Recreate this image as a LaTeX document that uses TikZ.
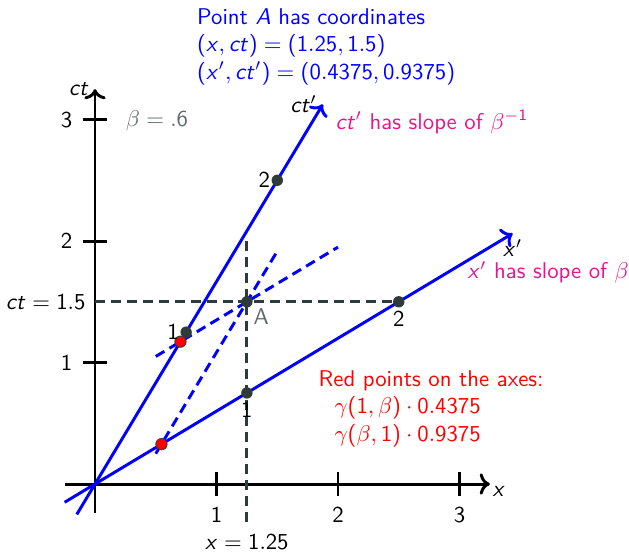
\documentclass[tikz,border=0pt]{standalone}
\usetikzlibrary{arrows.meta, calc, positioning}
\renewcommand{\familydefault}{\sfdefault}
% matematica sans (lettere latine e cifre)
\SetSymbolFont{operators}{normal}{OT1}{cmss}{m}{n}
\DeclareSymbolFont{sfletters}{OT1}{cmss}{m}{sl}
\DeclareMathSymbol{x}{\mathalpha}{sfletters}{`x}
\DeclareMathSymbol{c}{\mathalpha}{sfletters}{`c}
\DeclareMathSymbol{t}{\mathalpha}{sfletters}{`t}
\DeclareMathSymbol{A}{\mathalpha}{sfletters}{`A}
\definecolor{boostblue}{HTML}{0000FF}
\definecolor{slopepink}{HTML}{E8168C}
\definecolor{slate}{HTML}{2F3B3B}
\definecolor{betagray}{HTML}{5F6A6A}
\definecolor{ptred}{HTML}{FF0000}
\tikzset{
  % assi del riferimento in quiete
  mainaxis/.style={line width=1.3pt, black, ->},
  tickmark/.style={line width=1.3pt, black},
  % assi del riferimento in moto
  boostaxis/.style={line width=1.3pt, boostblue, ->},
  % proiezioni parallele agli assi in moto
  proj/.style={line width=1.3pt, boostblue, dash pattern=on 4.4pt off 2.6pt},
  % linee guida verso gli assi
  guide/.style={line width=1.3pt, slate, dash pattern=on 4.4pt off 2.6pt},
  % punti
  pt/.style={circle, fill=slate, inner sep=0pt, minimum size=5pt},
  redpt/.style={circle, draw=slate, line width=0.35pt, fill=ptred, inner sep=0pt,
    minimum size=5pt},
  % etichette
  lbl/.style={font=\normalsize, inner sep=2pt, text=black},
}
\begin{document}
\begin{tikzpicture}[x=1.875cm, y=1.875cm]
  \useasboundingbox (-0.782,-0.56) rectangle (4.395,3.984);
  % coordinate
  \coordinate (xl) at (-0.25,0);
  \coordinate (xr) at (3.25,0);
  \coordinate (yb) at (0,-0.24);
  \coordinate (yt) at (0,3.25);
  \coordinate (xps) at (-0.25,-0.15);
  \coordinate (xpe) at (3.4375,2.0625);
  \coordinate (cps) at (-0.15,-0.25);
  \coordinate (cpe) at (1.875,3.125);
  \coordinate (gv1) at (1.25,2);
  \coordinate (gv2) at (1.25,-0.34);
  \coordinate (gh1) at (0,1.5);
  \coordinate (gh2) at (2.5,1.5);
  \coordinate (px1) at (0.5,1.05);
  \coordinate (px2) at (2,1.95);
  \coordinate (pc1) at (0.5,0.25);
  \coordinate (pc2) at (1.49,1.9);
  % assi
  \draw[mainaxis] (xl) -- (xr) node[lbl, below right=-2pt] (xlab) {$x$};
  \draw[mainaxis] (yb) -- (yt) node[lbl, left=0pt] (ylab) {$ct$};
  \foreach \i in {1,2,3} {
    \draw[tickmark] (\i,-0.1) -- (\i,0.1);
    \node[lbl, below=3pt] (xt\i) at (\i,-0.1) {$\i$};
    \draw[tickmark] (-0.1,\i) -- (0.1,\i);
    \node[lbl, left=2.5pt] (yt\i) at (-0.1,\i) {$\i$};
  }
  \node[lbl, text=betagray] (beta) at (0.51,2.99) {$\beta = .6$};
  % linee guida
  \draw[guide] (gv1) -- (gv2) node[lbl, below=2.5pt, inner sep=1pt] (xval) {$x = 1.25$};
  \draw[guide] (gh1) -- (gh2);
  \node[lbl, left=2pt] (ctval) at (gh1) {$ct = 1.5$};
  % proiezioni
  \draw[proj] (px1) -- (px2);
  \draw[proj] (pc1) -- (pc2);
  % assi in moto
  \draw[boostaxis] (xps) -- (xpe) node[lbl, below=0pt] (xplab) {$x'$};
  \draw[boostaxis] (cps) -- (cpe) node[lbl, left=0pt] (cplab) {$ct'$};
  % punti
  \node[pt] (c1) at (0.75,1.25) {};
  \node[pt] (c2) at (1.5,2.5) {};
  \node[pt] (x1) at (1.25,0.75) {};
  \node[pt] (x2) at (2.5,1.5) {};
  \node[pt] (A) at (1.25,1.5) {};
  \node[redpt] (rx) at (0.546875,0.328125) {};
  \node[redpt] (rc) at (0.703125,1.171875) {};
  \node[lbl, left=1pt] at (c1) {$1$};
  \node[lbl, left=1pt] at (c2) {$2$};
  \node[lbl, below=2pt] at (x1) {$1$};
  \node[lbl, below=2pt] at (x2) {$2$};
  \node[lbl, text=betagray, below right=1pt] at (A) {A};
  % testi
  \node[lbl, text=boostblue, anchor=west, align=left] (info) at (0.8,3.6)
    {Point $A$ has coordinates\\ $(x, ct) = (1.25, 1.5)$\\ $(x', ct') = (0.4375, 0.9375)$};
  \node[lbl, text=slopepink, anchor=west] (cpslope) at (1.94,2.98) {$ct'$ has slope of $\beta^{-1}$};
  \node[lbl, text=slopepink, anchor=west] (xpslope) at (3.025,1.745) {$x'$ has slope of $\beta$};
  \node[lbl, text=ptred, anchor=west, align=left] (redinfo) at (1.8,0.62)
    {Red points on the axes:\\ \hspace{0.7em}$\gamma(1,\beta)\cdot 0.4375$\\ \hspace{0.7em}$\gamma(\beta,1)\cdot 0.9375$};
\end{tikzpicture}
\end{document}
